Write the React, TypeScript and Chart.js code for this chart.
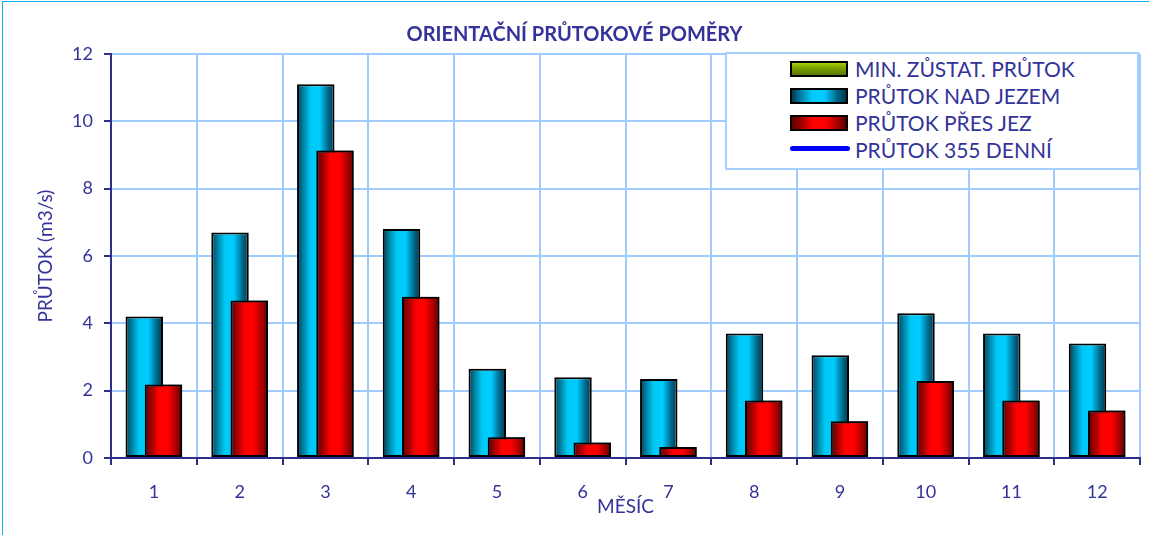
import React, { useEffect, useRef } from "react";
import { Chart, registerables } from "chart.js";

Chart.register(...registerables);

// ---------- data ----------
const months = ["1", "2", "3", "4", "5", "6", "7", "8", "9", "10", "11", "12"];
const seriesLabels = [
  "MIN. ZŮSTAT. PRŮTOK",
  "PRŮTOK NAD JEZEM",
  "PRŮTOK PŘES JEZ",
  "PRŮTOK 355 DENNÍ",
];
const minResidualFlow: (number | null)[] = [null, null, null, null, null, null, null, null, null, null, null, null];
const flowAboveWeir = [4.2, 6.7, 11.1, 6.8, 2.65, 2.4, 2.35, 3.7, 3.05, 4.3, 3.7, 3.4];
const flowOverWeir = [2.18, 4.68, 9.13, 4.79, 0.62, 0.46, 0.33, 1.71, 1.09, 2.29, 1.71, 1.41];
const flow355Day: (number | null)[] = [null, null, null, null, null, null, null, null, null, null, null, null];
const yMin = 0;
const yMax = 12;
const yStep = 2;

// ---------- styles ----------
const TEXT = "#333399";
const AXIS = "#2e2e8c";
const GRID = "#9fcbff";
const FONT = "Lato, 'Open Sans', sans-serif";

const blueStops: [number, string][] = [
  [0, "#003a4f"],
  [0.12, "#006f8f"],
  [0.36, "#00c8f5"],
  [0.6, "#00ccff"],
  [0.84, "#006585"],
  [1, "#00384c"],
];
const redStops: [number, string][] = [
  [0, "#600000"],
  [0.18, "#a00000"],
  [0.38, "#ff0000"],
  [0.62, "#ff0000"],
  [0.84, "#a80000"],
  [1, "#560000"],
];
const gradientByDataset: Record<number, [number, string][]> = { 1: blueStops, 2: redStops };

const cssGrad = (stops: [number, string][]) =>
  `linear-gradient(90deg, ${stops.map(([o, c]) => `${c} ${o * 100}%`).join(", ")})`;

const legendSwatches = [
  { kind: "box", bg: "linear-gradient(180deg, #a6d600 0%, #7fa600 35%, #5a7800 100%)" },
  { kind: "box", bg: cssGrad(blueStops) },
  { kind: "box", bg: cssGrad(redStops) },
  { kind: "line", bg: "#0000ff" },
];

const barStylePlugin = {
  id: "barStyle",
  beforeDatasetsDraw(chart: any) {
    const { ctx } = chart;
    Object.keys(gradientByDataset).forEach((k) => {
      const i = Number(k);
      const stops = gradientByDataset[i];
      const meta = chart.getDatasetMeta(i);
      meta.data.forEach((el: any) => {
        const { x, width } = el.getProps(["x", "width"], true);
        if (!isFinite(x) || !isFinite(width)) return;
        const g = ctx.createLinearGradient(x - width / 2, 0, x + width / 2, 0);
        stops.forEach(([o, c]) => g.addColorStop(o, c));
        el.options = { ...el.options, backgroundColor: g };
      });
    });
  },
  afterDatasetsDraw(chart: any) {
    // the front series (over weir) overlaps the one above weir
    const meta = chart.getDatasetMeta(2);
    if (meta && !meta.hidden) meta.controller.draw();
  },
};

export default function App() {
  const canvasRef = useRef<HTMLCanvasElement | null>(null);

  useEffect(() => {
    document.body.style.margin = "0";
    const canvas = canvasRef.current;
    if (!canvas) return;
    const barCommon = {
      borderColor: "#000000",
      borderWidth: 2,
      borderSkipped: false,
      categoryPercentage: 0.448,
      barPercentage: 1.95,
      skipNull: true,
    };
    const chart = new Chart(canvas, {
      type: "bar",
      data: {
        labels: months,
        datasets: [
          { ...barCommon, label: seriesLabels[0], data: minResidualFlow, backgroundColor: "#7fa600" },
          { ...barCommon, label: seriesLabels[1], data: flowAboveWeir, backgroundColor: "#00ccff" },
          { ...barCommon, label: seriesLabels[2], data: flowOverWeir, backgroundColor: "#ff0000" },
          {
            type: "line",
            label: seriesLabels[3],
            data: flow355Day,
            borderColor: "#0000ff",
            borderWidth: 5,
            pointRadius: 0,
          } as any,
        ],
      },
      options: {
        animation: false,
        responsive: false,
        layout: { padding: { left: 9, right: 9, top: 0, bottom: 0 } },
        plugins: {
          legend: { display: false },
          tooltip: { enabled: false },
          title: {
            display: true,
            text: "ORIENTAČNÍ PRŮTOKOVÉ POMĚRY",
            color: TEXT,
            font: { family: FONT, size: 20, weight: "bold", lineHeight: 1.2 },
            padding: { top: 23, bottom: 7 },
          },
        },
        scales: {
          x: {
            grid: {
              color: GRID,
              lineWidth: 2,
              tickColor: AXIS,
              tickLength: 7,
              offset: true,
            },
            border: { color: AXIS, width: 2 },
            ticks: { color: TEXT, font: { family: FONT, size: 18 }, padding: 16 },
            title: {
              display: true,
              text: "MĚSÍC",
              color: TEXT,
              font: { family: FONT, size: 19 },
              padding: { top: 0, bottom: 17 },
            },
            afterFit: (s: any) => {
              s.height = 77;
            },
          },
          y: {
            min: yMin,
            max: yMax,
            grid: { color: GRID, lineWidth: 2, tickColor: AXIS, tickLength: 7 },
            border: { color: AXIS, width: 2 },
            ticks: { stepSize: yStep, color: TEXT, font: { family: FONT, size: 18 }, padding: 11 },
            title: {
              display: true,
              text: "PRŮTOK (m3/s)",
              color: TEXT,
              font: { family: FONT, size: 19 },
              padding: { top: 25, bottom: 0 },
            },
            afterFit: (s: any) => {
              s.width = 102;
            },
          },
        },
      },
      plugins: [barStylePlugin],
    } as any);
    return () => chart.destroy();
  }, []);

  const rowCenters = [17, 43.5, 71, 97.5];

  return (
    <div style={{ position: "relative", width: 1149, height: 535, overflow: "hidden", background: "#fff" }}>
      <div
        style={{
          position: "absolute",
          left: 2,
          top: 1,
          width: 1200,
          height: 600,
          borderLeft: "1px solid #12b2ec",
          borderTop: "1px solid #12b2ec",
        }}
      />
      <canvas ref={canvasRef} width={1149} height={535} style={{ position: "absolute", left: 0, top: 0 }} />
      <div
        style={{
          position: "absolute",
          left: 725,
          top: 52,
          width: 414,
          height: 118,
          boxSizing: "border-box",
          border: "2px solid #a6d0ff",
          background: "#fff",
          fontFamily: FONT,
          color: TEXT,
        }}
      >
        {seriesLabels.map((label, i) => (
          <div
            key={label}
            style={{
              position: "absolute",
              left: 63,
              top: rowCenters[i] - 2 - 13,
              height: 26,
              display: "flex",
              alignItems: "center",
              whiteSpace: "nowrap",
            }}
          >
            {legendSwatches[i].kind === "box" ? (
              <div
                style={{
                  width: 58,
                  height: 16,
                  boxSizing: "border-box",
                  border: "2px solid #000",
                  background: legendSwatches[i].bg,
                }}
              />
            ) : (
              <div style={{ width: 60, height: 5, borderRadius: 3, background: legendSwatches[i].bg, marginTop: -3 }} />
            )}
            <span style={{ marginLeft: legendSwatches[i].kind === "box" ? 7 : 5, fontSize: 21, lineHeight: "26px" }}>
              {label}
            </span>
          </div>
        ))}
      </div>
    </div>
  );
}
